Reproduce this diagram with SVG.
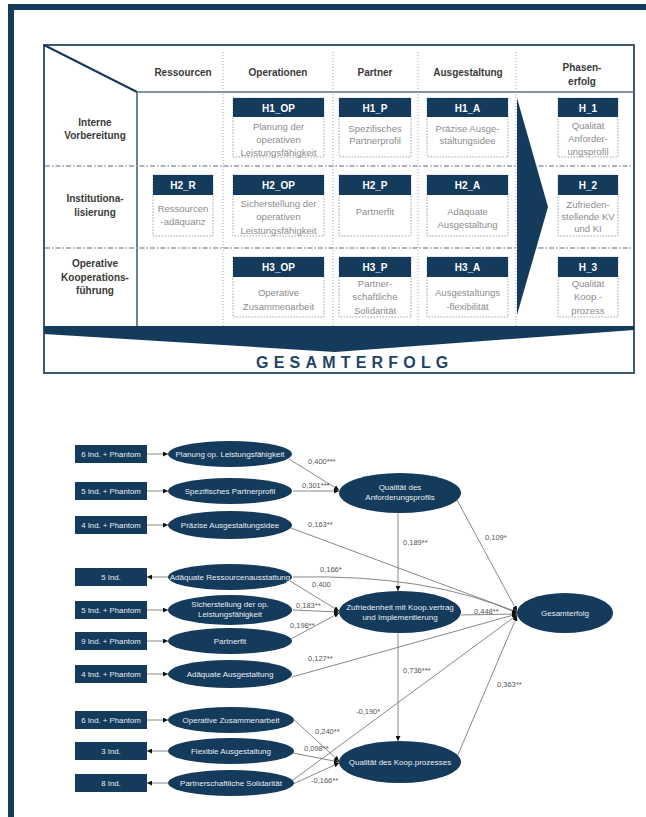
<svg xmlns="http://www.w3.org/2000/svg" width="646" height="817" viewBox="0 0 646 817">
<style>
.hd{font-family:"Liberation Sans",Arial,sans-serif;font-size:10px;font-weight:bold;fill:#3a3a3a;text-anchor:middle}
.bx{fill:#fff;stroke:#9aa4ae;stroke-width:1;stroke-dasharray:1.5,1.5}
.bh{fill:#143a5c}
.bt{font-family:"Liberation Sans",Arial,sans-serif;font-size:10px;font-weight:bold;fill:#fff;text-anchor:middle}
.bb{font-family:"Liberation Sans",Arial,sans-serif;font-size:9.5px;fill:#8c8c8c;text-anchor:middle}
.vd{stroke:#a0a8b0;stroke-width:1;stroke-dasharray:1,2;fill:none}
.hdd{stroke:#8e9cab;stroke-width:1.6;stroke-dasharray:5,2,1.5,2;fill:none}
.ind{fill:#143a5c}
.it{font-family:"Liberation Sans",Arial,sans-serif;font-size:7.8px;fill:#e8edf2;text-anchor:middle}
.el{fill:#143a5c}
.et{font-family:"Liberation Sans",Arial,sans-serif;font-size:8px;fill:#e8edf2;text-anchor:middle}
.cn{stroke:#7a7a7a;stroke-width:0.9;fill:none;marker-end:url(#ah)}
.lb{font-family:"Liberation Sans",Arial,sans-serif;font-size:7.5px;fill:#555}
</style>
<defs>
<marker id="ah" viewBox="0 0 6 6" refX="6" refY="3" markerWidth="5" markerHeight="5" markerUnits="userSpaceOnUse" orient="auto"><path d="M0,0L6,3L0,6z" fill="#111"/></marker>
</defs>
<rect width="646" height="817" fill="#fff"/>
<!-- outer frame -->
<path d="M11,817 V7 H646" fill="none" stroke="#143a5c" stroke-width="6"/>

<!-- table -->
<g id="table">
<rect x="44" y="45" width="590" height="328" fill="#fff" stroke="#3f5870" stroke-width="2"/>
<line x1="44" y1="45" x2="137" y2="92" stroke="#143a5c" stroke-width="2"/>
<line x1="137" y1="92" x2="634" y2="92" stroke="#5a6f84" stroke-width="1.5"/>
<line x1="137" y1="92" x2="137" y2="327" stroke="#3f5870" stroke-width="1.5"/>
<line class="vd" x1="223" y1="52" x2="223" y2="327"/>
<line class="vd" x1="333" y1="52" x2="333" y2="327"/>
<line class="vd" x1="418" y1="52" x2="418" y2="327"/>
<line class="vd" x1="516" y1="52" x2="516" y2="327"/>
<line class="hdd" x1="45" y1="166" x2="633" y2="166"/>
<line class="hdd" x1="45" y1="248" x2="633" y2="248"/>
<text class="hd" x="183" y="76">Ressourcen</text>
<text class="hd" x="278" y="76">Operationen</text>
<text class="hd" x="375" y="76">Partner</text>
<text class="hd" x="468" y="76">Ausgestaltung</text>
<text class="hd" x="582" y="71">Phasen-</text>
<text class="hd" x="582" y="85">erfolg</text>
<text class="hd" x="95" y="126">Interne</text>
<text class="hd" x="95" y="139">Vorbereitung</text>
<text class="hd" x="95" y="202">Institutiona-</text>
<text class="hd" x="95" y="216">lisierung</text>
<text class="hd" x="95" y="267">Operative</text>
<text class="hd" x="95" y="281">Kooperations-</text>
<text class="hd" x="95" y="294">führung</text>
<polygon points="517,98 548,207 517,315" fill="#143a5c"/>
<polygon points="44,326 634,326 634,330 335,352 44,334" fill="#143a5c"/>
<text x="256" y="368" font-family="Liberation Sans,Arial,sans-serif" font-size="16" font-weight="bold" fill="#1f4468" letter-spacing="5.2">GESAMTERFOLG</text>
</g>

<g id="H1_OP"><rect class="bx" x="233" y="98" width="91" height="59"/><rect class="bh" x="233" y="98" width="91" height="19"/><text class="bt" x="278.5" y="111.5">H1_OP</text><text class="bb" x="278.5" y="130">Planung der</text><text class="bb" x="278.5" y="143">operativen</text><text class="bb" x="278.5" y="156">Leistungsfähigkeit</text></g>
<g id="H1_P"><rect class="bx" x="339" y="98" width="72" height="59"/><rect class="bh" x="339" y="98" width="72" height="19"/><text class="bt" x="375" y="111.5">H1_P</text><text class="bb" x="375" y="132">Spezifisches</text><text class="bb" x="375" y="144">Partnerprofil</text></g>
<g id="H1_A"><rect class="bx" x="427" y="98" width="81" height="59"/><rect class="bh" x="427" y="98" width="81" height="19"/><text class="bt" x="467.5" y="111.5">H1_A</text><text class="bb" x="467.5" y="132">Präzise Ausge-</text><text class="bb" x="467.5" y="144">staltungsidee</text></g>
<g id="H_1"><rect class="bx" x="558" y="98" width="60" height="59"/><rect class="bh" x="558" y="98" width="60" height="19"/><text class="bt" x="588" y="111.5">H_1</text><text class="bb" x="588" y="129">Qualität</text><text class="bb" x="588" y="142">Anforder-</text><text class="bb" x="588" y="155">ungsprofil</text></g>

<g id="H2_R"><rect class="bx" x="153" y="175" width="60" height="61"/><rect class="bh" x="153" y="175" width="60" height="20"/><text class="bt" x="183" y="189">H2_R</text><text class="bb" x="183" y="212">Ressourcen</text><text class="bb" x="183" y="225">-adäquanz</text></g>
<g id="H2_OP"><rect class="bx" x="233" y="175" width="91" height="61"/><rect class="bh" x="233" y="175" width="91" height="20"/><text class="bt" x="278.5" y="189">H2_OP</text><text class="bb" x="278.5" y="207">Sicherstellung der</text><text class="bb" x="278.5" y="220">operativen</text><text class="bb" x="278.5" y="234">Leistungsfähigkeit</text></g>
<g id="H2_P"><rect class="bx" x="339" y="175" width="72" height="61"/><rect class="bh" x="339" y="175" width="72" height="20"/><text class="bt" x="375" y="189">H2_P</text><text class="bb" x="375" y="215">Partnerfit</text></g>
<g id="H2_A"><rect class="bx" x="427" y="175" width="81" height="61"/><rect class="bh" x="427" y="175" width="81" height="20"/><text class="bt" x="467.5" y="189">H2_A</text><text class="bb" x="467.5" y="215">Adäquate</text><text class="bb" x="467.5" y="228">Ausgestaltung</text></g>
<g id="H_2"><rect class="bx" x="558" y="175" width="60" height="61"/><rect class="bh" x="558" y="175" width="60" height="20"/><text class="bt" x="588" y="189">H_2</text><text class="bb" x="588" y="208">Zufrieden-</text><text class="bb" x="588" y="220">stellende KV</text><text class="bb" x="588" y="232">und KI</text></g>

<g id="H3_OP"><rect class="bx" x="233" y="257" width="91" height="60"/><rect class="bh" x="233" y="257" width="91" height="20"/><text class="bt" x="278.5" y="271">H3_OP</text><text class="bb" x="278.5" y="296">Operative</text><text class="bb" x="278.5" y="310">Zusammenarbeit</text></g>
<g id="H3_P"><rect class="bx" x="339" y="257" width="72" height="60"/><rect class="bh" x="339" y="257" width="72" height="20"/><text class="bt" x="375" y="271">H3_P</text><text class="bb" x="375" y="287">Partner-</text><text class="bb" x="375" y="300">schaftliche</text><text class="bb" x="375" y="314">Solidarität</text></g>
<g id="H3_A"><rect class="bx" x="427" y="257" width="81" height="60"/><rect class="bh" x="427" y="257" width="81" height="20"/><text class="bt" x="467.5" y="271">H3_A</text><text class="bb" x="467.5" y="296">Ausgestaltungs</text><text class="bb" x="467.5" y="310">-flexibilität</text></g>
<g id="H_3"><rect class="bx" x="558" y="257" width="60" height="60"/><rect class="bh" x="558" y="257" width="60" height="20"/><text class="bt" x="588" y="271">H_3</text><text class="bb" x="588" y="287">Qualität</text><text class="bb" x="588" y="300">Koop.-</text><text class="bb" x="588" y="314">prozess</text></g>

<!-- connectors -->
<g id="connectors">
<line class="cn" x1="147" y1="454" x2="168" y2="454"/>
<line class="cn" x1="147" y1="491" x2="168" y2="491"/>
<line class="cn" x1="147" y1="525" x2="168" y2="525"/>
<line class="cn" x1="168" y1="577" x2="147" y2="577"/>
<line class="cn" x1="147" y1="610" x2="168" y2="610"/>
<line class="cn" x1="147" y1="641" x2="168" y2="641"/>
<line class="cn" x1="147" y1="674" x2="168" y2="674"/>
<line class="cn" x1="147" y1="720" x2="168" y2="720"/>
<line class="cn" x1="168" y1="751" x2="147" y2="751"/>
<line class="cn" x1="168" y1="783" x2="147" y2="783"/>

<line class="cn" x1="289" y1="459" x2="339" y2="490"/>
<line class="cn" x1="293" y1="491" x2="339" y2="491"/>
<line class="cn" x1="291" y1="528" x2="517" y2="612"/>
<path class="cn" d="M293,577 Q430,574 517,613"/>
<line class="cn" x1="290" y1="581" x2="339" y2="611"/>
<line class="cn" x1="293" y1="610" x2="339" y2="612"/>
<line class="cn" x1="291" y1="639" x2="339" y2="613"/>
<line class="cn" x1="292" y1="677" x2="517" y2="614"/>
<line class="cn" x1="398" y1="513" x2="398" y2="591"/>
<line class="cn" x1="457" y1="500" x2="517" y2="611"/>
<line class="cn" x1="461" y1="615" x2="517" y2="614"/>
<line class="cn" x1="398" y1="633" x2="398" y2="741"/>
<line class="cn" x1="457" y1="757" x2="517" y2="616"/>
<line class="cn" x1="291" y1="717" x2="339" y2="761"/>
<line class="cn" x1="293" y1="753" x2="339" y2="762"/>
<line class="cn" x1="293" y1="780" x2="517" y2="615"/>
<line class="cn" x1="293" y1="784" x2="339" y2="763"/>
</g>

<g id="labels">
<text class="lb" x="308" y="464">0,400***</text>
<text class="lb" x="302" y="488">0,301***</text>
<text class="lb" x="308" y="527">0,163**</text>
<text class="lb" x="320" y="572">0,166*</text>
<text class="lb" x="312" y="587">0,400</text>
<text class="lb" x="296" y="608">0,183**</text>
<text class="lb" x="290" y="628">0,198**</text>
<text class="lb" x="308" y="661">0,127**</text>
<text class="lb" x="403" y="545">0,189**</text>
<text class="lb" x="485" y="540">0,109*</text>
<text class="lb" x="474" y="614">0,448**</text>
<text class="lb" x="403" y="673">0,736***</text>
<text class="lb" x="497" y="687">0,363**</text>
<text class="lb" x="356" y="714">-0,190*</text>
<text class="lb" x="315" y="734">0,240**</text>
<text class="lb" x="304" y="751">0,098**</text>
<text class="lb" x="311" y="783">-0,166**</text>
</g>

<!-- indicator boxes -->
<g id="ind1"><rect class="ind" x="75" y="445" width="72" height="18"/><text class="it" x="111" y="456.7">6 Ind. + Phantom</text></g>
<g id="ind2"><rect class="ind" x="75" y="482" width="72" height="18"/><text class="it" x="111" y="493.7">5 Ind. + Phantom</text></g>
<g id="ind3"><rect class="ind" x="75" y="516" width="72" height="18"/><text class="it" x="111" y="527.7">4 Ind. + Phantom</text></g>
<g id="ind4"><rect class="ind" x="75" y="568" width="72" height="18"/><text class="it" x="111" y="579.7">5 Ind.</text></g>
<g id="ind5"><rect class="ind" x="75" y="601" width="72" height="18"/><text class="it" x="111" y="612.7">5 Ind. + Phantom</text></g>
<g id="ind6"><rect class="ind" x="75" y="632" width="72" height="18"/><text class="it" x="111" y="643.7">9 Ind. + Phantom</text></g>
<g id="ind7"><rect class="ind" x="75" y="665" width="72" height="18"/><text class="it" x="111" y="676.7">4 Ind. + Phantom</text></g>
<g id="ind8"><rect class="ind" x="75" y="711" width="72" height="18"/><text class="it" x="111" y="722.7">6 Ind. + Phantom</text></g>
<g id="ind9"><rect class="ind" x="75" y="742" width="72" height="18"/><text class="it" x="111" y="753.7">3 Ind.</text></g>
<g id="ind10"><rect class="ind" x="75" y="774" width="72" height="18"/><text class="it" x="111" y="785.7">8 Ind.</text></g>

<!-- small latent ellipses -->
<g id="planung"><ellipse class="el" cx="230" cy="454" rx="62" ry="13"/><text class="et" x="230" y="456.8">Planung op. Leistungsfähigkeit</text></g>
<g id="spezifisch"><ellipse class="el" cx="230" cy="491" rx="62" ry="13"/><text class="et" x="230" y="493.8">Spezifisches Partnerprofil</text></g>
<g id="praezise"><ellipse class="el" cx="230" cy="525" rx="62" ry="14"/><text class="et" x="230" y="527.8">Präzise Ausgestaltungsidee</text></g>
<g id="ressourcen"><ellipse class="el" cx="230" cy="577" rx="62" ry="13"/><text class="et" x="230" y="579.8">Adäquate Ressourcenausstattung</text></g>
<g id="sicherstellung"><ellipse class="el" cx="230" cy="610" rx="62" ry="15"/><text class="et" x="230" y="607">Sicherstellung der op.</text><text class="et" x="230" y="616.5">Leistungsfähigkeit</text></g>
<g id="partnerfit"><ellipse class="el" cx="230" cy="641" rx="62" ry="13"/><text class="et" x="230" y="643.8">Partnerfit</text></g>
<g id="adaequate"><ellipse class="el" cx="230" cy="674" rx="62" ry="14"/><text class="et" x="230" y="676.8">Adäquate Ausgestaltung</text></g>
<g id="operative"><ellipse class="el" cx="231" cy="720" rx="63" ry="13"/><text class="et" x="231" y="722.8">Operative Zusammenarbeit</text></g>
<g id="flexible"><ellipse class="el" cx="231" cy="751" rx="63" ry="13"/><text class="et" x="231" y="753.8">Flexible Ausgestaltung</text></g>
<g id="solidaritaet"><ellipse class="el" cx="231" cy="783" rx="63" ry="13"/><text class="et" x="231" y="785.8">Partnerschaftliche Solidarität</text></g>

<!-- main latent ellipses -->
<g id="qa"><ellipse class="el" cx="400" cy="493" rx="61" ry="20"/><text class="et" x="400" y="490">Qualität des</text><text class="et" x="400" y="500">Anforderungsprofils</text></g>
<g id="zufriedenheit"><ellipse class="el" cx="400" cy="612" rx="61" ry="21"/><text class="et" x="400" y="610">Zufriedenheit mit Koop.vertrag</text><text class="et" x="400" y="619.5">und Implementierung</text></g>
<g id="gesamterfolg"><ellipse class="el" cx="565" cy="613" rx="48" ry="20"/><text class="et" x="565" y="615.8">Gesamterfolg</text></g>
<g id="koopprozess"><ellipse class="el" cx="400" cy="762" rx="61" ry="21"/><text class="et" x="400" y="764.8">Qualität des Koop.prozesses</text></g>
</svg>
